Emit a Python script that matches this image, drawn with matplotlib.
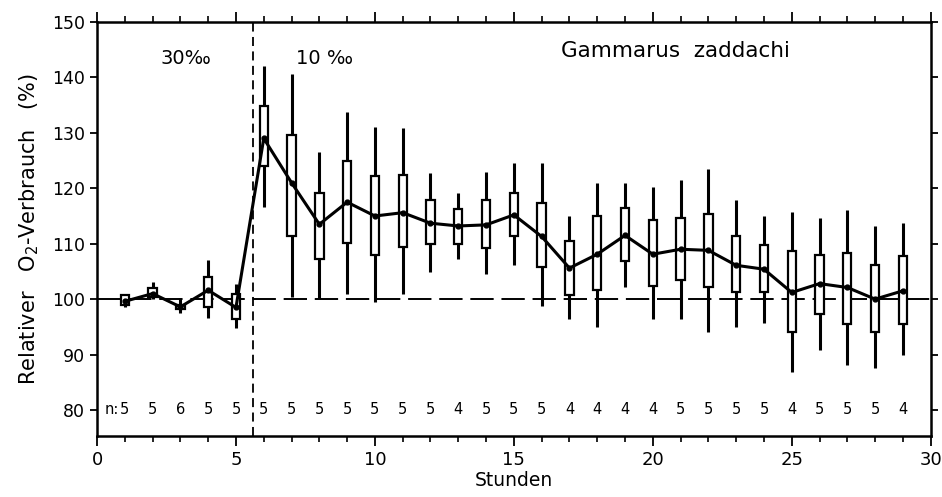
import numpy as np
import matplotlib
matplotlib.use('Agg')
import matplotlib.pyplot as plt
from matplotlib.ticker import MultipleLocator

# Stunden und Messwerte (relativer O2-Verbrauch in %)
hours = np.arange(1, 30)
mean = [99.6, 101.0, 98.6, 101.6, 98.5, 129.0, 121.0, 113.5, 117.5, 115.0,
        115.6, 113.7, 113.2, 113.4, 115.2, 111.3, 105.6, 108.1, 111.5, 108.1,
        109.0, 108.8, 106.1, 105.4, 101.2, 102.8, 102.1, 100.0, 101.5]
box_lo = [98.9, 100.4, 98.2, 98.5, 96.5, 124.0, 111.3, 107.2, 110.2, 107.9,
          109.4, 110.0, 110.0, 109.2, 111.3, 105.8, 100.8, 101.7, 106.9, 102.3,
          103.4, 102.1, 101.2, 101.2, 94.0, 97.4, 95.5, 94.1, 95.5]
box_hi = [100.7, 102.0, 99.0, 104.0, 101.0, 134.8, 129.6, 119.2, 124.9, 122.2,
          122.4, 117.9, 116.2, 117.9, 119.2, 117.4, 110.5, 115.0, 116.5, 114.3,
          114.7, 115.3, 111.4, 109.7, 108.6, 108.0, 108.4, 106.1, 107.7]
wh_lo = [98.5, 100.0, 97.5, 96.6, 94.8, 116.7, 100.4, 100.2, 101.0, 99.5,
         101.0, 104.9, 107.3, 104.5, 106.1, 98.7, 96.5, 95.0, 102.1, 96.5,
         96.5, 94.1, 95.0, 95.7, 86.9, 90.8, 88.2, 87.5, 89.9]
wh_hi = [101.0, 103.0, 100.2, 107.0, 102.8, 142.0, 140.7, 126.6, 133.8, 131.1,
         130.8, 122.7, 119.1, 123.0, 124.6, 124.5, 115.0, 121.0, 121.0, 120.2,
         121.5, 123.5, 117.9, 115.0, 115.8, 114.7, 116.1, 113.2, 113.7]
n_vals = [5, 5, 6, 5, 5, 5, 5, 5, 5, 5, 5, 5, 4, 5, 5, 5, 4, 4, 4, 4,
          5, 5, 5, 5, 4, 5, 5, 5, 4]
switch_hour = 5.6

fig = plt.figure(figsize=(9.42, 4.97), dpi=100)
ax = fig.add_axes([0.103, 0.1227, 0.885, 0.833])

# Referenzlinie 100 % und Wechsel des Salzgehalts
ax.axhline(100, color='black', lw=1.4, dashes=(12, 4), zorder=1)
ax.axvline(switch_hour, color='black', lw=1.3, dashes=(5, 3), zorder=1)

# Streuung (Linien) und Boxen
ax.vlines(hours, wh_lo, wh_hi, color='black', lw=2.2, zorder=2)
ax.bar(hours, np.array(box_hi) - np.array(box_lo), bottom=box_lo, width=0.3,
       facecolor='white', edgecolor='black', linewidth=1.6, zorder=3)
ax.plot(hours, mean, color='black', lw=2.2, marker='o', ms=3.5, zorder=4)

# Anzahl der Tiere
for h, n in zip(hours, n_vals):
    ax.text(h, 80, str(n), ha='center', va='center', fontsize=10.5)
ax.text(0.78, 80, 'n:', ha='right', va='center', fontsize=10.5)

ax.text(3.2, 143.5, '30‰', ha='center', va='center', fontsize=14)
ax.text(8.2, 143.5, '10 ‰', ha='center', va='center', fontsize=14)
ax.text(20.8, 144.8, 'Gammarus  zaddachi', ha='center', va='center', fontsize=15.5)

ax.set_xlim(0, 30)
ax.set_ylim(75.3, 150)
ax.xaxis.set_major_locator(MultipleLocator(5))
ax.xaxis.set_minor_locator(MultipleLocator(1))
ax.set_yticks(range(80, 151, 10))
ax.tick_params(axis='x', which='major', direction='out', length=7, width=1.3,
               top=True, labelsize=13, pad=4)
ax.tick_params(axis='x', which='minor', direction='out', length=4, width=1.2,
               top=True)
ax.tick_params(axis='y', direction='out', length=5, width=1.3, right=True,
               labelsize=12.5)
for s in ax.spines.values():
    s.set_linewidth(1.8)

ax.set_xlabel('Stunden', fontsize=13.5, labelpad=1)
ax.set_ylabel('Relativer   O$_2$-Verbrauch   (%)', fontsize=15, labelpad=8)

fig.savefig('out.png', dpi=100)
